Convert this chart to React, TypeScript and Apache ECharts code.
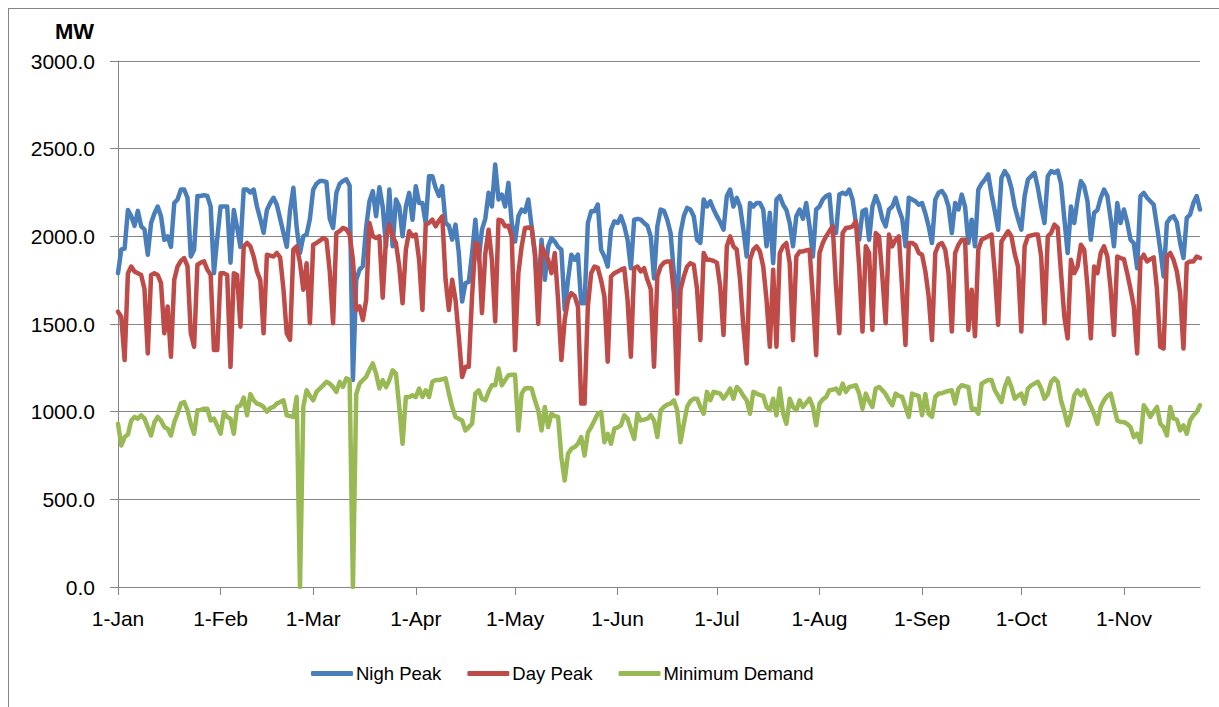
import React, { useEffect, useRef } from "react";
import * as echarts from "echarts";

const MONTHS = ["Jan", "Feb", "Mar", "Apr", "May", "Jun", "Jul", "Aug", "Sep", "Oct", "Nov"];
const MONTH_DAYS = [31, 28, 31, 30, 31, 30, 31, 31, 30, 31, 24];

const Y_TICKS = [0, 500, 1000, 1500, 2000, 2500, 3000];

const SERIES_NAMES = ["Nigh Peak", "Day Peak", "Minimum Demand"];

const nighPeak = [
  1790, 1925, 1930, 2150, 2115, 2060, 2145, 2057, 2040, 1895,
  2076, 2130, 2170, 2115, 1980, 2000, 1940, 2190, 2210, 2267,
  2267, 2220, 1885, 1924, 2230, 2230, 2235, 2230, 2170, 1790,
  1990, 2170, 2170, 2170, 1850, 2150, 2050, 1940, 2267, 2267,
  2250, 2267, 2170, 2100, 2020, 2150, 2190, 2220, 2180, 2100,
  2020, 1940, 2150, 2277, 2050, 1905, 2000, 2010, 2100, 2267,
  2300, 2315, 2315, 2310, 2100, 2048, 2248, 2300, 2315, 2325,
  2290, 1180, 1750, 1810, 1830, 2050, 2200, 2258, 2115, 2280,
  2170, 1943, 2267, 1943, 2210, 2170, 2000, 2170, 2248, 2095,
  2286, 2190, 2190, 2076, 2343, 2343, 2277, 2230, 2286, 2076,
  2060, 1981, 2067, 1905, 1628, 1733, 1740, 1900, 2095, 1866,
  2038, 2100, 2248, 2170, 2410, 2210, 2238, 2170, 2305, 2076,
  1970, 2115, 2153, 2140, 2210, 2057, 1905, 1657, 1981, 1752,
  1943, 1990, 1970, 1940, 1924, 1580, 1752, 1895, 1866, 1895,
  1618, 1618, 2076, 2143, 2143, 2181, 1924, 1885, 1828, 2038,
  2086, 2076, 2115, 2060, 1981, 1818, 2095, 2100, 2095, 2076,
  2060, 2000, 1760, 2057, 2153, 2145, 2095, 2019, 1790, 1600,
  2019, 2115, 2162, 2153, 2115, 1981, 1962, 2210, 2170, 2200,
  2153, 2115, 2080, 2038, 2230, 2267, 2170, 2220, 2170, 2038,
  1885, 2190, 2170, 2190, 2190, 2153, 1943, 2134, 1847, 2210,
  2230, 2181, 2150, 2076, 1943, 2115, 2153, 2100, 2190, 2057,
  1885, 2153, 2170, 2210, 2230, 2238, 2019, 2019, 2238, 2248,
  2240, 2267, 2210, 2076, 1981, 2143, 2153, 1981, 2170, 2230,
  2180, 2100, 2057, 2153, 2170, 2220, 2153, 2100, 1943, 2220,
  2210, 2200, 2180, 2190, 2130, 2057, 1962, 2210, 2248, 2258,
  2230, 2170, 2019, 2190, 2153, 2238, 2170, 1962, 2095, 1943,
  2267, 2300, 2324, 2353, 2238, 2143, 2038, 2334, 2372, 2343,
  2277, 2170, 2100, 2038, 2230, 2324, 2343, 2362, 2277, 2170,
  2076, 2343, 2372, 2362, 2375, 2300, 2100, 1905, 2170, 2076,
  2210, 2315, 2286, 2200, 1981, 2134, 2150, 2220, 2267, 2230,
  2100, 1943, 2190, 2076, 2153, 2080, 1981, 1960, 1818, 2230,
  2248, 2220, 2200, 2181, 2057, 1924, 1771, 2076, 2105, 2115,
  2080, 1962, 1876, 2105, 2124, 2190, 2230, 2153,
];

const dayPeak = [
  1570, 1540, 1294, 1790, 1828, 1800, 1790, 1780, 1700, 1332,
  1780, 1790, 1780, 1733, 1447, 1600, 1313, 1752, 1828, 1860,
  1876, 1830, 1447, 1370, 1838, 1850, 1857, 1810, 1780, 1351,
  1351, 1790, 1790, 1780, 1255, 1790, 1780, 1485, 1943, 1962,
  1943, 1885, 1800, 1750, 1447, 1895, 1890, 1885, 1905, 1880,
  1700, 1447, 1410, 1924, 1943, 1850, 1695, 1847, 1504, 1952,
  1962, 1975, 1990, 1981, 1800, 1504, 2019, 2030, 2048, 2040,
  2010, 1866, 1580, 1600, 1523, 1638, 2076, 2000, 1990, 2000,
  1650, 1990, 2067, 2000, 1962, 1828, 1618, 1924, 2029, 2000,
  2010, 1866, 1580, 2067, 2076, 2095, 2057, 2090, 2114, 1752,
  1580, 1752, 1638, 1428, 1198, 1256, 1256, 1657, 1962, 1950,
  1562, 1900, 2038, 1866, 1514, 2095, 2090, 2057, 2060, 2000,
  1351, 1790, 1943, 2048, 2050, 2048, 1900, 1500, 1943, 1905,
  1866, 1790, 1905, 1638, 1294, 1523, 1638, 1676, 1660, 1600,
  1046, 1046, 1600, 1790, 1828, 1820, 1750, 1657, 1285, 1771,
  1790, 1800, 1810, 1818, 1638, 1313, 1818, 1828, 1800, 1818,
  1752, 1700, 1256, 1771, 1828, 1850, 1857, 1857, 1676, 1103,
  1695, 1771, 1828, 1847, 1838, 1700, 1408, 1905, 1866, 1866,
  1860, 1850, 1714, 1437, 1943, 2000, 1943, 1924, 1752, 1485,
  1275, 1866, 1924, 1943, 1914, 1828, 1638, 1370, 1810, 1370,
  1905, 1943, 1962, 1847, 1408, 1885, 1914, 1914, 1920, 1924,
  1657, 1322, 1905, 1962, 2000, 2030, 2057, 1714, 1447, 2019,
  2048, 2050, 2057, 2086, 1828, 1457, 1943, 1905, 1466, 2019,
  2000, 1771, 1504, 2010, 1943, 1981, 2000, 1695, 1380, 1962,
  1962, 1950, 1905, 1895, 1800, 1657, 1408, 1905, 1952, 1962,
  1924, 1790, 1457, 1905, 1952, 1981, 1981, 1466, 1695, 1430,
  1924, 1981, 1990, 2000, 2010, 1790, 1495, 1971, 2000, 2029,
  2000, 1900, 1828, 1457, 1943, 2000, 2005, 2010, 2010, 1885,
  1504, 2000, 2019, 2067, 2050, 1790, 1542, 1418, 1866, 1790,
  1828, 1952, 1924, 1714, 1418, 1828, 1790, 1905, 1943, 1885,
  1700, 1437, 1885, 1876, 1870, 1790, 1700, 1600, 1332, 1866,
  1895, 1857, 1870, 1880, 1695, 1370, 1360, 1885, 1905, 1866,
  1800, 1676, 1360, 1847, 1857, 1857, 1885, 1876,
];

const minimumDemand = [
  931, 807, 855, 870, 950, 970, 960, 979, 960, 912,
  864, 940, 970, 950, 912, 903, 864, 940, 988, 1046,
  1055, 1008, 930, 874, 1008, 1010, 1017, 1017, 950, 960,
  920, 874, 998, 970, 960, 874, 1027, 1036, 1080, 980,
  1100, 1065, 1046, 1040, 1027, 1000, 1020, 1027, 1046, 1055,
  1065, 979, 975, 970, 1084, 0, 1027, 1122, 1090, 1065,
  1113, 1132, 1150, 1170, 1160, 1140, 1113, 1170, 1141, 1190,
  1180, 0, 1100, 1160, 1180, 1198, 1240, 1275, 1217, 1132,
  1180, 1140, 1180, 1236, 1217, 1027, 817, 1084, 1084, 1093,
  1084, 1132, 1084, 1122, 1084, 1170, 1180, 1180, 1185, 1190,
  1103, 1027, 970, 960, 950, 893, 912, 931, 1103, 1122,
  1074, 1065, 1113, 1151, 1151, 1246, 1151, 1180, 1208, 1210,
  1210, 893, 1103, 1132, 1135, 1132, 1065, 1008, 893, 1027,
  912, 988, 975, 970, 740, 607, 760, 788, 798, 817,
  855, 750, 880, 912, 950, 988, 998, 826, 874, 817,
  903, 910, 922, 979, 960, 900, 845, 988, 950, 955,
  960, 980, 950, 855, 1008, 1027, 1040, 1046, 1065, 1008,
  826, 931, 1027, 1060, 1074, 1074, 1027, 988, 1113, 1065,
  1113, 1108, 1103, 1074, 1100, 1132, 1074, 1141, 1122, 1090,
  1065, 988, 1113, 1103, 1095, 1090, 1027, 1008, 1074, 979,
  1132, 990, 931, 1074, 1027, 1008, 1065, 1027, 1050, 1074,
  1027, 922, 1046, 1070, 1084, 1122, 1125, 1132, 1103, 1160,
  1113, 1141, 1145, 1151, 1103, 1017, 1103, 1060, 1027, 1132,
  1141, 1122, 1100, 1065, 1036, 1103, 1090, 1084, 1027, 970,
  1103, 1095, 1090, 980, 1100, 988, 970, 1084, 1103, 1105,
  1113, 1118, 1122, 1046, 1132, 1151, 1145, 1141, 1017, 1017,
  988, 1160, 1170, 1180, 1180, 1122, 1090, 1055, 1141, 1190,
  1141, 1074, 1090, 1103, 1046, 1132, 1150, 1160, 1170, 1132,
  1074, 1100, 1170, 1190, 1170, 1065, 1000, 922, 988, 1093,
  1122, 1093, 1122, 1074, 1030, 988, 931, 1027, 1065, 1090,
  1103, 1027, 950, 941, 941, 930, 912, 855, 874, 826,
  1036, 1008, 970, 1000, 1027, 931, 912, 864, 1027, 960,
  955, 893, 922, 874, 950, 979, 998, 1036,
];

const dates: string[] = [];
MONTHS.forEach((m, i) => {
  for (let d = 1; d <= MONTH_DAYS[i]; d++) dates.push(`${d}-${m}`);
});

const FONT = "'Liberation Sans', Arial, sans-serif";
const COLORS = ["#4A7EBB", "#BE4B48", "#98B954"];
const GRAY = "#868686";

export default function App() {
  const ref = useRef<HTMLDivElement>(null);

  useEffect(() => {
    if (!ref.current) return;
    const chart = echarts.init(ref.current, undefined, { renderer: "svg" });
    const isMonthStart = (_i: number, v: string) => String(v).startsWith("1-");
    chart.setOption({
      animation: false,
      backgroundColor: "#ffffff",
      textStyle: { fontFamily: FONT },
      title: {
        text: "MW",
        left: 46,
        top: 11,
        padding: 0,
        textStyle: { fontFamily: FONT, fontSize: 22, fontWeight: "bold", color: "#000" },
      },
      grid: { left: 109, top: 52, right: 22, bottom: 125, containLabel: false },
      legend: {
        data: SERIES_NAMES,
        left: 297,
        top: 650,
        itemGap: 26,
        itemWidth: 42,
        itemHeight: 5,
        icon: "roundRect",
        textStyle: { fontFamily: FONT, fontSize: 18.5, color: "#000", padding: [0, 0, 0, -2] },
      },
      xAxis: {
        type: "category",
        data: dates,
        boundaryGap: false,
        axisLine: { lineStyle: { color: GRAY, width: 1 } },
        axisTick: { show: true, interval: isMonthStart, length: 8, lineStyle: { color: GRAY } },
        axisLabel: {
          interval: isMonthStart,
          margin: 21,
          fontFamily: FONT,
          fontSize: 21,
          color: "#000",
        },
        splitLine: { show: false },
      },
      yAxis: {
        type: "value",
        min: 0,
        max: 3000,
        interval: 500,
        axisLine: { show: true, lineStyle: { color: GRAY, width: 1 } },
        axisTick: { show: true, length: 8, lineStyle: { color: GRAY } },
        axisLabel: {
          margin: 23,
          fontFamily: FONT,
          fontSize: 21,
          color: "#000",
          formatter: (v: number) => (Y_TICKS.includes(v) ? v.toFixed(1) : ""),
        },
        splitLine: { show: true, lineStyle: { color: GRAY, width: 1 } },
      },
      series: [nighPeak, dayPeak, minimumDemand].map((vals, i) => ({
        name: SERIES_NAMES[i],
        type: "line",
        data: vals,
        symbol: "none",
        showSymbol: false,
        lineStyle: { color: COLORS[i], width: 4.5, join: "round", cap: "round" },
        itemStyle: { color: COLORS[i] },
        z: 2 + i,
      })),
    });
    return () => chart.dispose();
  }, []);

  return (
    <div
      style={{
        position: "fixed",
        left: 8,
        top: 8,
        width: 1215,
        height: 705,
        border: `1px solid ${GRAY}`,
        boxSizing: "border-box",
        background: "#fff",
      }}
    >
      <div ref={ref} style={{ width: 1213, height: 703 }} />
    </div>
  );
}
